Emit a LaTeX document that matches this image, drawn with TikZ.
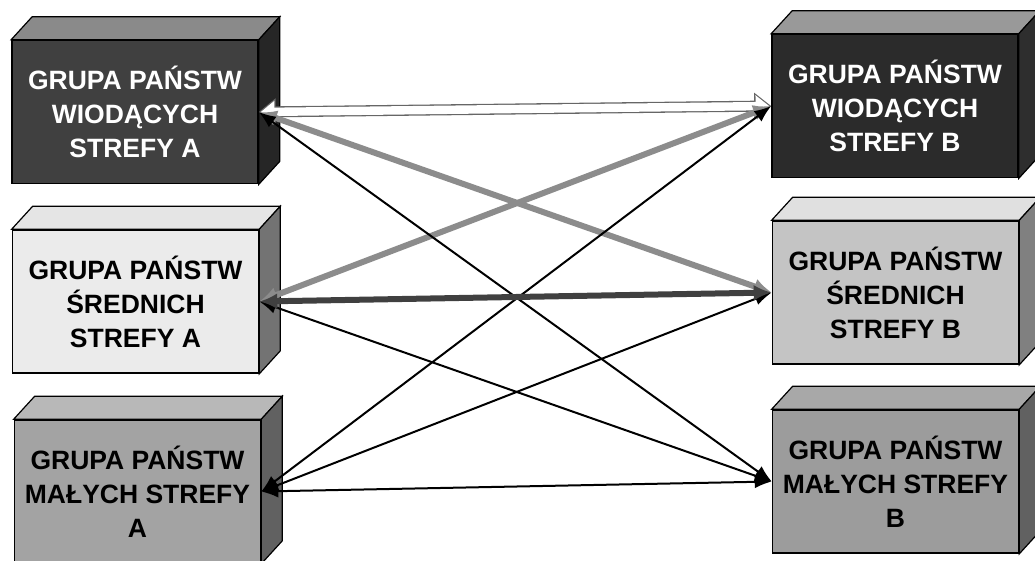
\documentclass[tikz,border=0pt]{standalone}
\usepackage{fontspec}
\newfontfamily\boxfont{Liberation Sans}
\usetikzlibrary{arrows.meta}

\begin{document}
\begin{tikzpicture}[x=1pt, y=-1pt,
    box/.style={draw, line width=1.6pt, minimum width=246pt, minimum height=143pt, inner sep=0pt, align=center, font=\boxfont\bfseries\fontsize{26.5}{34}\selectfont},
    face/.style={draw, line width=1.2pt},
    arrow/.style={{Latex[length=17pt,width=13pt]}-{Latex[length=17pt,width=13pt]}, line width=2pt},
    heavy/.style={{Latex[length=18pt,width=16pt]}-{Latex[length=18pt,width=16pt]}, line width=6pt},
    hollow/.style={line width=11pt, black!60, {Triangle[length=17pt,width=26pt]}-{Triangle[length=17pt,width=26pt]}},
    hollowin/.style={line width=8.4pt, white, shorten <=2pt, shorten >=2pt, {Triangle[length=13.6pt,width=21pt]}-{Triangle[length=13.6pt,width=21pt]}}
]
    \useasboundingbox (0,0) rectangle (1035,560);
    % strefa A
    \node[box, fill=black!75, text=white] (la1) at (135,112) {GRUPA PAŃSTW\\WIODĄCYCH\\STREFY A};
    \node[box, fill=black!8] (la2) at (135.5,301.5) {GRUPA PAŃSTW\\ŚREDNICH\\STREFY A};
    \node[box, fill=black!36] (la3) at (137.5,491.5) {GRUPA PAŃSTW\\MAŁYCH STREFY\\A};
    % strefa B
    \node[box, fill=black!83, text=white] (rb1) at (895,106) {GRUPA PAŃSTW\\WIODĄCYCH\\STREFY B};
    \node[box, fill=black!23] (rb2) at (895.5,292.5) {GRUPA PAŃSTW\\ŚREDNICH\\STREFY B};
    \node[box, fill=black!39] (rb3) at (895.5,481.5) {GRUPA PAŃSTW\\MAŁYCH STREFY\\B};
    % top and side faces
    \foreach \n/\topc/\sidec in {la1/black!46/black!85, la2/black!10/black!55, la3/black!28/black!62,
                                 rb1/black!40/black!82, rb2/black!12/black!50, rb3/black!34/black!62}{
        \draw[face, fill=\topc] (\n.north west) -- ([shift={(21,-23)}]\n.north west)
            -- ([shift={(21,-23)}]\n.north east) -- (\n.north east) -- cycle;
        \draw[face, fill=\sidec] (\n.north east) -- ([shift={(21,-23)}]\n.north east)
            -- ([shift={(21,-23)}]\n.south east) -- (\n.south east) -- cycle;
    }
    % links
    \draw[hollow] (la1.east) -- (rb1.west);
    \draw[hollowin] (la1.east) -- (rb1.west);
    \draw[heavy, black!45] (la1.east) -- (rb2.west);
    \draw[heavy, black!45] (la2.east) -- (rb1.west);
    \foreach \a/\b in {la1/rb3, la2/rb3, la3/rb1, la3/rb2, la3/rb3}
        \draw[arrow] (\a.east) -- (\b.west);
    \draw[heavy, black!75] (la2.east) -- (rb2.west);
\end{tikzpicture}
\end{document}
